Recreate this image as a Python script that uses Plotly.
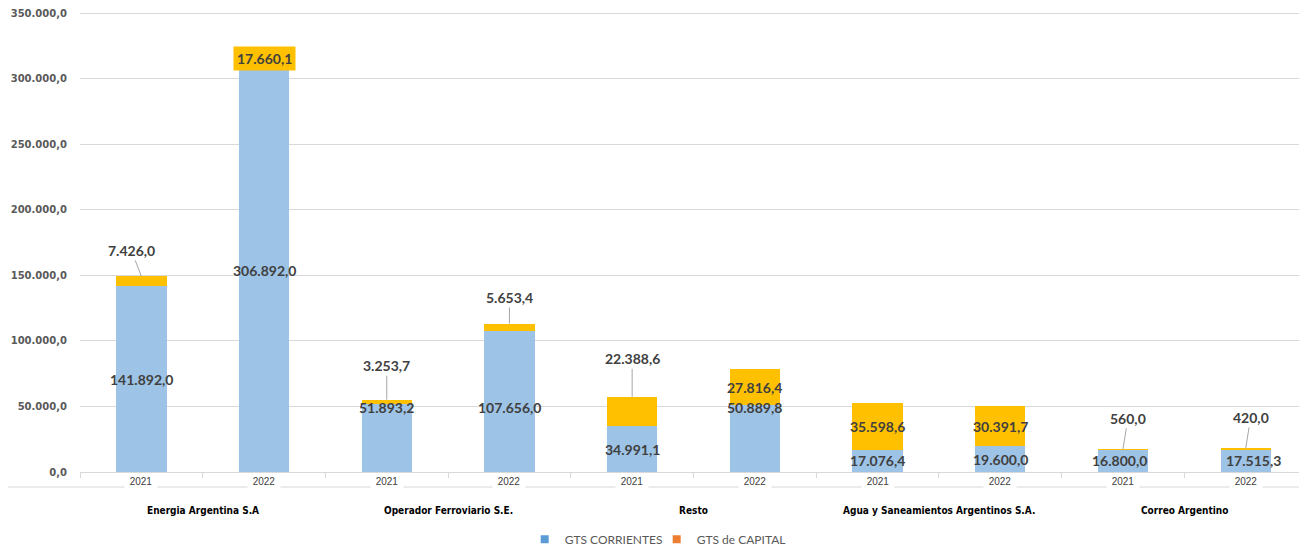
import plotly.graph_objects as go

# ---------------- data ----------------
groups = ["Energia Argentina S.A", "Operador Ferroviario S.E.", "Resto",
          "Agua y Saneamientos Argentinos S.A.", "Correo Argentino"]
years = ["2021", "2022", "2021", "2022", "2021", "2022", "2021", "2022", "2021", "2022"]
gts_corrientes = [141892.0, 306892.0, 51893.2, 107656.0, 34991.1,
                  50889.8, 17076.4, 19600.0, 16800.0, 17515.3]
gts_capital = [7426.0, 17660.1, 3253.7, 5653.4, 22388.6,
               27816.4, 35598.6, 30391.7, 560.0, 420.0]
y_tick_vals = [0, 50000, 100000, 150000, 200000, 250000, 300000, 350000]

# ---------------- label layout (positions only) ----------------
# capital labels: (ax, ay) pixel offsets for outside labels, None = inside the segment
cap_offsets = [(-10, -26), None, (0, -34), (0, -26), (0, -38),
               None, None, None, (5, -31), (5, -31)]
cap_bg = [None, "#FFC000", None, None, None, None, None, None, None, None]
# corrientes labels that were moved by hand in the original (index -> y value)
corr_label_override = {2: 49500, 3: 49500, 5: 49500}
corr_label_xshift = [0, 0, 0, 0, 0, 0, 0, 0, -3, 8]


def fmt(v):
    s = f"{v:,.1f}"
    return s.replace(",", "X").replace(".", ",").replace("X", ".")


x = list(range(len(years)))
BLUE = "#9DC3E6"
GOLD = "#FFC000"
LABEL_FONT = dict(family="Lato, Open Sans, sans-serif", size=14, color="#404040", weight="bold")

fig = go.Figure()
fig.add_trace(go.Bar(x=x, y=gts_corrientes, marker=dict(color=BLUE, line=dict(width=0)),
                     width=0.41, showlegend=False, name="GTS CORRIENTES", hoverinfo="skip"))
fig.add_trace(go.Bar(x=x, y=gts_capital, marker=dict(color=GOLD, line=dict(width=0)),
                     width=0.41, showlegend=False, name="GTS de CAPITAL", hoverinfo="skip"))
# legend entries (original legend uses the default palette colours)
fig.add_trace(go.Scatter(x=[None], y=[None], mode="markers", name="GTS CORRIENTES",
                         marker=dict(symbol="square", size=8, color="#5B9BD5")))
fig.add_trace(go.Scatter(x=[None], y=[None], mode="markers", name="GTS de CAPITAL",
                         marker=dict(symbol="square", size=8, color="#ED7D31")))

annotations = []
for i in x:
    c = gts_corrientes[i]
    k = gts_capital[i]
    # corrientes label
    yc = corr_label_override.get(i, c / 2)
    annotations.append(dict(x=i, y=yc, xref="x", yref="y", text=fmt(c), showarrow=False,
                            font=LABEL_FONT, xshift=corr_label_xshift[i],
                            yanchor="middle"))
    # capital label
    off = cap_offsets[i]
    if off is None:
        a = dict(x=i, y=c + k / 2, xref="x", yref="y", text=fmt(k), showarrow=False,
                 font=LABEL_FONT, yanchor="middle")
        if cap_bg[i]:
            a.update(bgcolor=cap_bg[i], borderpad=3)
        annotations.append(a)
    else:
        annotations.append(dict(x=i, y=c + k, xref="x", yref="y", text=fmt(k),
                                showarrow=True, arrowhead=0, arrowwidth=1,
                                arrowcolor="#A6A6A6", ax=off[0], ay=off[1],
                                standoff=0, startstandoff=0, font=LABEL_FONT))
    # year label
    annotations.append(dict(x=i, y=-0.0196, xref="x", yref="paper", text=years[i],
                            showarrow=False, bgcolor="white", width=30, height=12,
                            yanchor="middle",
                            font=dict(family="Liberation Sans, Arial, sans-serif",
                                      size=10, color="#404040")))

for g, name in enumerate(groups):
    annotations.append(dict(x=2 * g + 0.5, y=-0.0828, xref="x", yref="paper", text=name,
                            showarrow=False, yanchor="middle",
                            font=dict(family="DejaVu Sans Condensed, sans-serif",
                                      size=10, color="#000000", weight="bold")))

shapes = [dict(type="line", xref="paper", yref="paper", x0=-0.061, x1=1.0,
               y0=-0.0327, y1=-0.0327, line=dict(color="#D9D9D9", width=1), layer="below")]

fig.update_layout(
    barmode="stack",
    width=1299, height=542,
    margin=dict(l=72, r=0, t=4, b=78, autoexpand=False),
    plot_bgcolor="white", paper_bgcolor="white",
    annotations=annotations,
    shapes=shapes,
    legend=dict(orientation="h", x=0.47, xanchor="center", y=-0.146, yanchor="middle",
                traceorder="normal", entrywidth=87, entrywidthmode="pixels",
                font=dict(family="Lato, Open Sans, sans-serif", size=12, color="#595959"),
                itemwidth=30, tracegroupgap=0),
    xaxis=dict(range=[-0.5, 9.5], tickvals=x, ticktext=[""] * len(x), showgrid=False,
               showline=True, linecolor="#D9D9D9", linewidth=1, zeroline=False,
               ticks="",
               minor=dict(ticks="outside", tick0=-0.5, dtick=1, ticklen=5,
                          tickcolor="#D9D9D9", showgrid=False)),
    yaxis=dict(range=[0, 351000], tickvals=y_tick_vals,
               ticktext=[fmt(v) for v in y_tick_vals],
               showgrid=True, gridcolor="#D9D9D9", gridwidth=1, zeroline=False,
               showline=False, ticks="", ticklabelstandoff=12,
               ticklabeloverflow="allow",
               tickfont=dict(family="DejaVu Sans, Verdana, sans-serif", size=10,
                             color="#595959", weight="bold")),
    bargap=0.59,
)

fig.write_html("out.html")
